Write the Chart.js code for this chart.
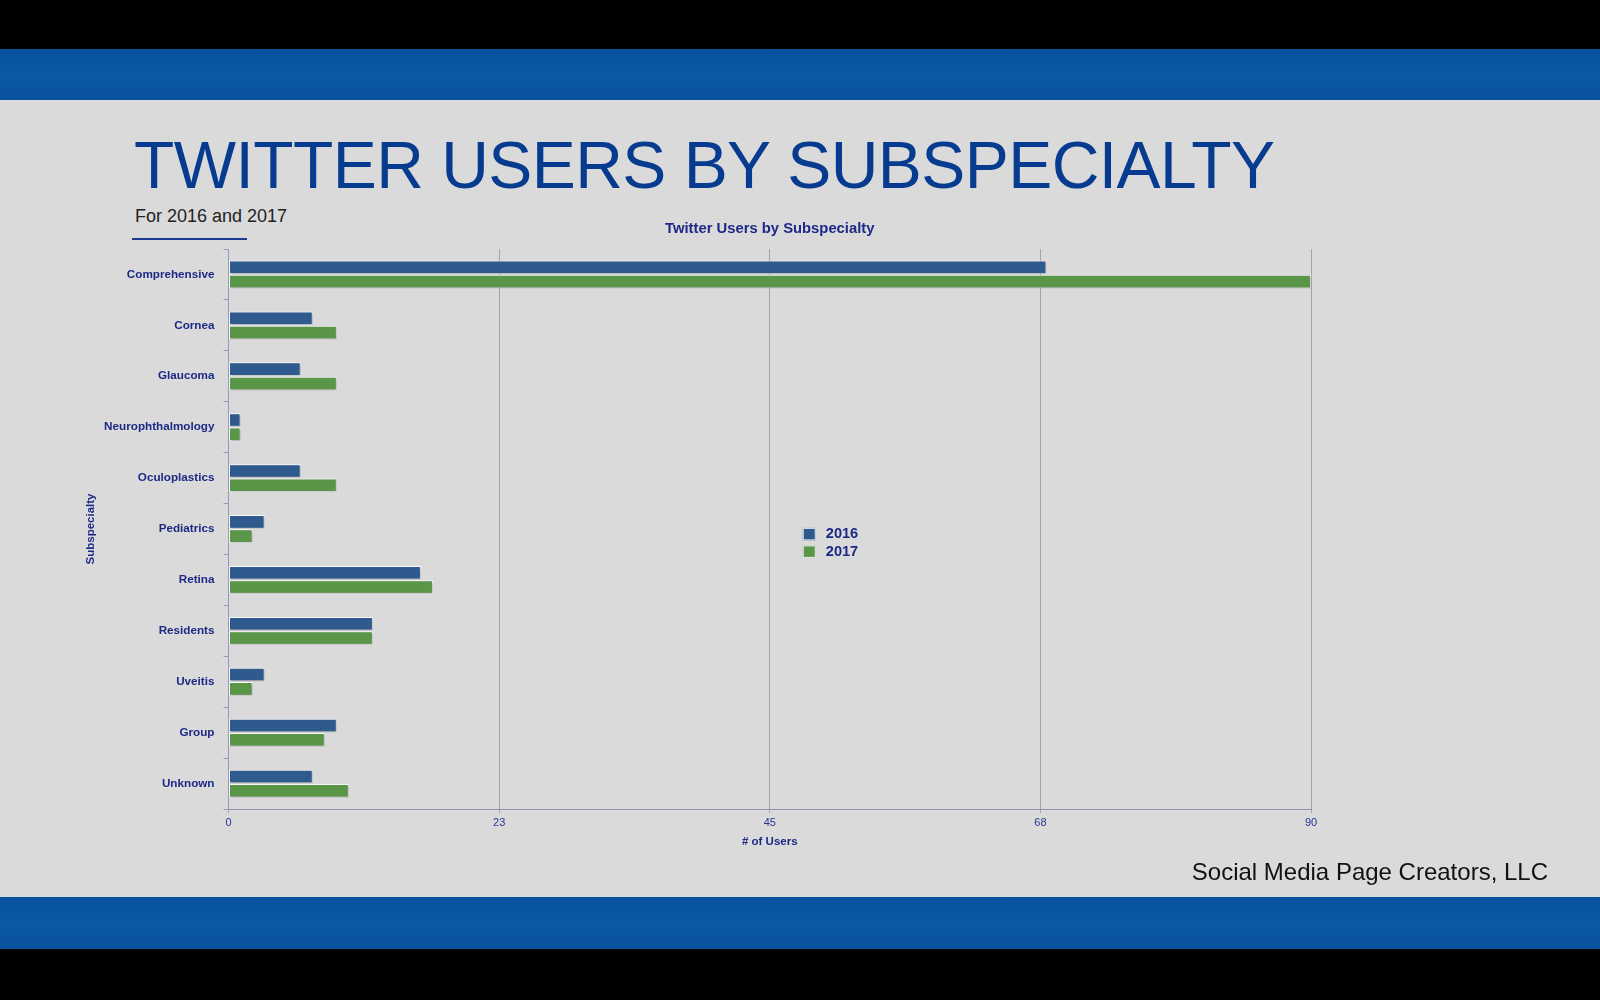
<!DOCTYPE html>
<html>
<head>
<meta charset="utf-8">
<script src="https://cdn.jsdelivr.net/npm/chart.js@4.4.1/dist/chart.umd.min.js"></script>
<style>
  html, body { margin:0; padding:0; width:1600px; height:1000px; overflow:hidden; background:#000; }
  #page { position:absolute; left:0; top:0; width:1600px; height:1000px; background:#000; font-family:"Liberation Sans", Arial, Helvetica, sans-serif; }
  .band { position:absolute; left:0; width:1600px; background:#0a58a6;
    background-image: linear-gradient(rgba(0,25,80,0.10), rgba(0,25,80,0.0) 50%, rgba(0,25,80,0.10)); }
  #bandTop { top:49px; height:51px; }
  #bandBot { top:897px; height:52px; }
  #panel { position:absolute; left:0; top:100px; width:1600px; height:797px; background:#dadada; }
  #title { position:absolute; left:134px; top:132px; font-size:66px; letter-spacing:-0.55px; color:#063b8f; white-space:nowrap; line-height:1; }
  #subtitle { position:absolute; left:135px; top:206px; font-size:18px; color:#222; white-space:nowrap; line-height:1.2; }
  #rule { position:absolute; left:132px; top:238px; width:115px; height:1.5px; background:#1c3a8f; }
  #footer { position:absolute; right:52px; top:858px; font-size:24px; color:#111; white-space:nowrap; line-height:1.2; }
  #chartWrap { position:absolute; left:0; top:200px; width:1600px; height:660px; }
</style>
</head>
<body>
<div id="page">
  <div class="band" id="bandTop"></div>
  <div id="panel"></div>
  <div class="band" id="bandBot"></div>
  <div id="title">TWITTER USERS BY SUBSPECIALTY</div>
  <div id="subtitle">For 2016 and 2017</div>
  <div id="rule"></div>
  <div id="chartWrap"><canvas id="c" width="1600" height="660"></canvas></div>
  <div id="footer">Social Media Page Creators, LLC</div>
</div>
<script>
const categories = ["Comprehensive","Cornea","Glaucoma","Neurophthalmology","Oculoplastics","Pediatrics","Retina","Residents","Uveitis","Group","Unknown"];
const users2016 = [68, 7, 6, 1, 6, 3, 16, 12, 3, 9, 7];
const users2017 = [90, 9, 9, 1, 9, 2, 17, 12, 2, 8, 10];
const seriesLabels = ["2016", "2017"];
const xTickMax = 90;
const xTickStep = 22.5;
const chartTitle = "Twitter Users by Subspecialty";

const NAVY = '#1c2a86';
const FONT = '"Liberation Sans", Arial, Helvetica, sans-serif';

const decorPlugin = {
  id: 'decor',
  beforeDatasetsDraw(chart) {
    const ctx = chart.ctx;
    ctx.save();
    ctx.shadowColor = 'rgba(0,0,0,0.28)';
    ctx.shadowOffsetX = 1;
    ctx.shadowOffsetY = 1.5;
    ctx.shadowBlur = 2;
  },
  afterDatasetsDraw(chart) {
    chart.ctx.restore();
  },
  afterDraw(chart) {
    const ctx = chart.ctx;
    const a = chart.chartArea;
    ctx.save();
    // chart title
    ctx.fillStyle = NAVY;
    ctx.font = 'bold 14.8px ' + FONT;
    ctx.textAlign = 'center';
    ctx.textBaseline = 'middle';
    ctx.fillText(chartTitle, (a.left + a.right) / 2, a.top - 20);
    // legend
    const lx = a.left + 0.5305 * (a.right - a.left);
    const ly = a.top + 0.498 * (a.bottom - a.top);
    chart.data.datasets.forEach((ds, i) => {
      const y = ly + i * 17.5;
      ctx.fillStyle = ds.backgroundColor;
      ctx.strokeStyle = 'rgba(255,255,255,0.85)';
      ctx.lineWidth = 1;
      ctx.fillRect(lx, y, 13, 12.5);
      ctx.strokeRect(lx + 0.5, y + 0.5, 12, 11.5);
      ctx.fillStyle = NAVY;
      ctx.font = 'bold 14.6px ' + FONT;
      ctx.textAlign = 'left';
      ctx.textBaseline = 'middle';
      ctx.fillText(ds.label, lx + 23, y + 6.5);
    });
    ctx.restore();
  }
};

new Chart(document.getElementById('c'), {
  type: 'bar',
  data: {
    labels: categories,
    datasets: [
      { label: seriesLabels[0], data: users2016, backgroundColor: '#2e5a8e', borderColor: 'rgba(255,255,255,0.9)', borderWidth: 1, borderSkipped: false },
      { label: seriesLabels[1], data: users2017, backgroundColor: '#5a9648', borderColor: 'rgba(255,255,255,0.9)', borderWidth: 1, borderSkipped: false }
    ]
  },
  options: {
    indexAxis: 'y',
    responsive: false,
    animation: false,
    devicePixelRatio: 1,
    categoryPercentage: 0.56,
    barPercentage: 0.95,
    layout: { padding: { left: 0, right: 289, top: 49, bottom: 0 } },
    plugins: {
      legend: { display: false },
      title: { display: false },
      tooltip: { enabled: false }
    },
    scales: {
      x: {
        type: 'linear',
        min: 0,
        max: xTickMax,
        afterFit(scale) { scale.height = 51; },
        ticks: {
          stepSize: xTickStep,
          autoSkip: false,
          padding: 3,
          color: '#2a3592',
          font: { family: FONT, size: 11 },
          callback: (v) => String(Math.round(v))
        },
        grid: { color: '#a2a2b2', lineWidth: 1, tickLength: 4, drawTicks: true },
        border: { display: true, color: '#9494b8', width: 1 },
        title: {
          display: true,
          text: '# of Users',
          color: NAVY,
          font: { family: FONT, size: 11.5, weight: 'bold' },
          padding: { top: 0, bottom: 11 }
        }
      },
      y: {
        type: 'category',
        afterFit(scale) { scale.width = 228.5; },
        ticks: {
          padding: 9,
          color: NAVY,
          font: { family: FONT, size: 11.7, weight: 'bold' }
        },
        grid: { offset: true, drawOnChartArea: false, drawTicks: true, tickLength: 5, color: '#9a9abf' },
        border: { display: true, color: '#9a9abf', width: 1 },
        title: {
          display: true,
          text: 'Subspecialty',
          color: NAVY,
          font: { family: FONT, size: 11.5, weight: 'bold' },
          padding: { top: 84, bottom: 0 }
        }
      }
    }
  },
  plugins: [decorPlugin]
});
</script>
</body>
</html>
